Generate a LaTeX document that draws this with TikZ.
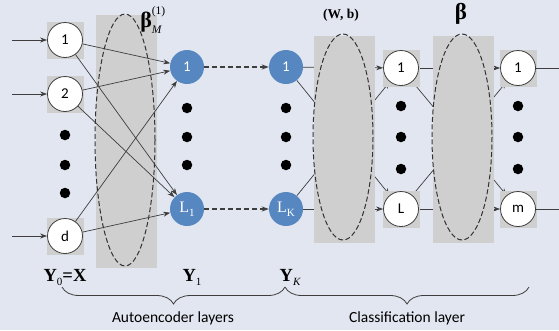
\documentclass[tikz,border=0pt]{standalone}
\usepackage{fontspec}
\setmainfont{Liberation Serif}
\newfontfamily\calfont{Carlito}
\usetikzlibrary{arrows.meta,decorations.pathreplacing}

\definecolor{bgcol}{RGB}{226,230,240}
\definecolor{panel}{RGB}{207,207,207}
\definecolor{nodeblue}{RGB}{86,135,192}
\definecolor{ink}{RGB}{62,62,62}

\pgfdeclarelayer{back}
\pgfdeclarelayer{mid}
\pgfsetlayers{back,mid,main}

\newcommand\lowidx[1]{\raisebox{-4pt}{\fontsize{11}{11}\selectfont\mdseries #1}}

\tikzset{
  unit/.style={circle, draw=ink, line width=0.8pt, fill=white, minimum size=35pt,
    inner sep=0pt, font=\calfont\fontsize{15}{15}\selectfont},
  hid/.style={circle, fill=nodeblue, minimum size=34pt, inner sep=0pt, text=white,
    font=\fontsize{16}{16}\selectfont},
  sq/.style={fill=panel, minimum size=37pt, inner sep=0pt},
  dotmark/.style={circle, fill=black, minimum size=10.5pt, inner sep=0pt},
  wire/.style={draw=ink, line width=0.7pt},
  arr/.style={wire, -{Stealth[length=7pt,width=5pt]}},
  hop/.style={draw=ink, line width=1.4pt, dash pattern=on 5pt off 3pt,
    -{Stealth[length=7pt,width=5pt]}},
  weights/.style={draw=black!80, line width=1pt, dash pattern=on 5pt off 2.5pt},
  mathlbl/.style={font=\bfseries\fontsize{18.5}{18.5}\selectfont, inner sep=0pt},
  caption/.style={font=\calfont\fontsize{15.5}{16}\selectfont, inner sep=0pt},
  bracel/.style={draw=ink, line width=0.8pt, decorate,
    decoration={brace, mirror, amplitude=17pt}},
}

\begin{document}
\begin{tikzpicture}[x=1pt, y=-1pt]
  \useasboundingbox (0,0) rectangle (559,330);
  \begin{pgfonlayer}{back}
    \fill[bgcol] (0,0) rectangle (559,330);
  \end{pgfonlayer}

  % input layer
  \node[unit] (i1) at (65,40) {1};
  \node[unit] (i2) at (65,94) {2};
  \node[unit] (id) at (65,236) {d};
  \coordinate (s1) at (12,40);
  \coordinate (s2) at (12,94);
  \coordinate (sd) at (12,236);
  \foreach \y/\n in {135/a,165/b,193/c}
    \node[dotmark] (di\n) at (65,\y) {};

  % first hidden layer and last autoencoder layer
  \node[hid, font=\calfont\fontsize{15}{15}\selectfont] (h1) at (187,67) {1};
  \node[hid] (hl) at (187,209) {L\lowidx{1}};
  \node[hid, font=\calfont\fontsize{15}{15}\selectfont] (k1) at (286,67) {1};
  \node[hid] (kl) at (286,209) {L\lowidx{K}};
  \foreach \y/\n in {108/a,137/b,165/c} {
    \node[dotmark] (dh\n) at (187,\y) {};
    \node[dotmark] (dk\n) at (286,\y) {};
  }

  % classification hidden layer and output layer
  \node[unit] (c1) at (401,68) {1};
  \node[unit] (cl) at (401,209) {L};
  \node[unit] (o1) at (518,68) {1};
  \node[unit] (om) at (518,209) {m};
  \coordinate (e1) at (559,68);
  \coordinate (em) at (559,209);
  \foreach \y/\n in {106/a,137/b,169/c} {
    \node[dotmark] (dc\n) at (401,\y) {};
    \node[dotmark] (do\n) at (518,\y) {};
  }

  % weight panels with their dashed outlines
  \begin{pgfonlayer}{mid}
    \fill[panel] (96,15) rectangle (157,268);
    \fill[panel] (314,36) rectangle (375,243);
    \fill[panel] (433,36) rectangle (494,243);
    \draw[weights] (125,140) ellipse [x radius=30, y radius=126];
    \draw[weights] (343,137) ellipse [x radius=30, y radius=103];
    \draw[weights] (462,137) ellipse [x radius=30, y radius=103];
    \foreach \n in {i1,i2,id,c1,cl,o1,om}
      \node[sq] at (\n) {};
  \end{pgfonlayer}

  % connections hidden behind the panels
  \begin{pgfonlayer}{back}
    \foreach \a in {k1,kl}
      \foreach \b in {c1,cl}
        \draw[arr] (\a) -- (\b);
    \foreach \a in {c1,cl}
      \foreach \b in {o1,om}
        \draw[arr] (\a) -- (\b);
  \end{pgfonlayer}

  % inputs and the fully connected first layer
  \draw[arr] (s1) -- (i1);
  \draw[arr] (s2) -- (i2);
  \draw[arr] (sd) -- (id);
  \foreach \a in {i1,i2,id}
    \foreach \b in {h1,hl}
      \draw[arr] (\a) -- (\b);
  \draw[hop] (h1) -- (k1);
  \draw[hop] (hl) -- (kl);
  \draw[wire] (o1) -- (e1);
  \draw[wire] (om) -- (em);

  % weight labels
  \node[inner sep=0pt] (lbm) at (153,20)
    {${\mbox{\fontsize{22}{22}\selectfont\bfseries β}}^{\mbox{\fontsize{11.5}{11.5}\selectfont(1)}}_{\mbox{\fontsize{11.5}{11.5}\selectfont\itshape M}}$};
  \node[inner sep=0pt, font=\bfseries\fontsize{13.5}{13.5}\selectfont] (lwb) at (341,15) {(W, b)};
  \node[inner sep=0pt, font=\bfseries\fontsize{23}{23}\selectfont] (lb) at (461,14) {β};

  % layer outputs
  \node[mathlbl] (y0) at (65,277) {Y\lowidx{0}=X};
  \node[mathlbl] (y1) at (192,277) {Y\lowidx{1}};
  \node[mathlbl] (yk) at (290,277) {Y\lowidx{\itshape K}};

  % braces and captions
  \coordinate (b0) at (62,287);
  \coordinate (b1) at (285,287);
  \coordinate (b2) at (529,287);
  \draw[bracel] (b0) -- (b1);
  \draw[bracel] (b1) -- (b2);
  \node[caption] (cap1) at (173,318) {Autoencoder layers};
  \node[caption] (cap2) at (407,318) {Classification layer};
\end{tikzpicture}
\end{document}
